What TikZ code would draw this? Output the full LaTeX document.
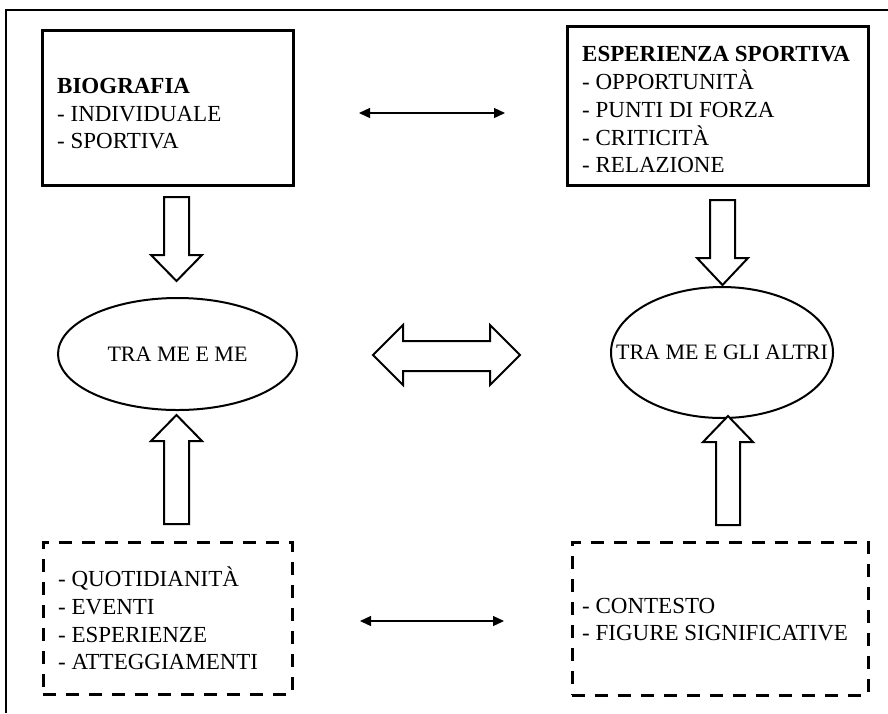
\documentclass[tikz,border=0pt]{standalone}
\usepackage{fontspec}
\setmainfont{Liberation Serif}
\usetikzlibrary{arrows.meta,shapes.geometric}
\begin{document}
\begin{tikzpicture}[x=1pt,y=-1pt,
  txt/.style={font=\fontsize{23}{27.7}\selectfont, inner sep=0pt, anchor=base west},
  solidbox/.style={draw, line width=3pt, inner sep=0pt},
  dashbox/.style={draw, line width=3pt, inner sep=0pt, dash pattern=on 13pt off 10pt},
  oval/.style={draw, ellipse, line width=2pt, inner sep=0pt, label={[font=\fontsize{22}{26}\selectfont, inner sep=0pt]center:#1}},
  hollow/.style={draw, line width=2pt, fill=white, line join=miter},
  thinarrow/.style={{Triangle[length=11pt,width=10pt]}-{Triangle[length=11pt,width=10pt]}, line width=1.3pt}
]
\useasboundingbox (0,0) rectangle (888,713);
% outer frame
\draw[line width=1.6pt] (888,10) -- (6,10) -- (6,713);

% boxes
\node[solidbox, minimum width=251pt, minimum height=155pt] (bio) at (167.5,107.5) {};
\node[solidbox, minimum width=301pt, minimum height=159pt] (esp) at (717.5,105.5) {};
\node[dashbox, minimum width=249pt, minimum height=152pt] (quot) at (167.5,618) {};
\node[dashbox, minimum width=296pt, minimum height=153pt] (cont) at (720,618.5) {};

% texts
\node[txt] (b1) at (57,93.5) {\textbf{BIOGRAFIA}};
\node[txt] (b2) at (57,121.5) {- INDIVIDUALE};
\node[txt] (b3) at (57,148.5) {- SPORTIVA};

\node[txt] (e1) at (582,61.5) {\textbf{ESPERIENZA SPORTIVA}};
\node[txt] (e2) at (582,89.5) {- OPPORTUNITÀ};
\node[txt] (e3) at (582,117.5) {- PUNTI DI FORZA};
\node[txt] (e4) at (582,145.5) {- CRITICITÀ};
\node[txt] (e5) at (582,172.5) {- RELAZIONE};

\node[txt] (q1) at (58,586.5) {- QUOTIDIANITÀ};
\node[txt] (q2) at (58,614.5) {- EVENTI};
\node[txt] (q3) at (58,642) {- ESPERIENZE};
\node[txt] (q4) at (58,669.5) {- ATTEGGIAMENTI};

\node[txt] (c1) at (582,613.5) {- CONTESTO};
\node[txt] (c2) at (582,640) {- FIGURE SIGNIFICATIVE};

% ellipses
\node[oval={TRA ME E ME}, minimum width=239pt, minimum height=112pt] (me) at (177.5,354) {};
\node[oval={TRA ME E GLI ALTRI}, minimum width=222pt, minimum height=131pt] (altri) at (722,352.5) {};

% thin double arrows
\coordinate (ta) at (359,113);
\coordinate (tb) at (505,113);
\coordinate (ba) at (360,621);
\coordinate (bb) at (504,621);
\draw[thinarrow] (ta) -- (tb);
\draw[thinarrow] (ba) -- (bb);

% hollow arrows
\draw[hollow] (164,197) -- (189,197) -- (189,255) -- (202,255) -- (176.5,281) -- (151,255) -- (164,255) -- cycle;
\draw[hollow] (710,200) -- (735,200) -- (735,258) -- (748,258) -- (722.5,285) -- (697,258) -- (710,258) -- cycle;
\draw[hollow] (164,524) -- (189,524) -- (189,441) -- (202,441) -- (176.5,415) -- (151,441) -- (164,441) -- cycle;
\draw[hollow] (716,525) -- (740,525) -- (740,442) -- (753,442) -- (728,416) -- (703,442) -- (716,442) -- cycle;
\draw[hollow] (373,355) -- (403,325) -- (403,341) -- (490,341) -- (490,325) -- (520,355) -- (490,385) -- (490,371) -- (403,371) -- (403,385) -- cycle;
\end{tikzpicture}
\end{document}
